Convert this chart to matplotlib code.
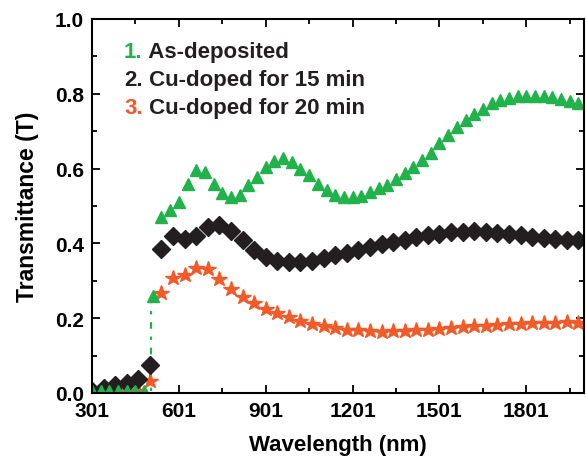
import numpy as np
import matplotlib.pyplot as plt
from matplotlib.ticker import MultipleLocator, FixedLocator

plt.rcParams['font.family'] = ['Liberation Sans', 'DejaVu Sans']
plt.rcParams['font.weight'] = 'bold'

# wavelengths (nm)
wl_dep = np.arange(301, 2001, 30)
wl_cu = np.arange(301, 2001, 40)
edge_wl = 505  # absorption edge of the as-deposited film

t_dep = [0.005, 0.005, 0.005, 0.005, 0.005, 0.005, 0.005,
         0.26, 0.47, 0.49, 0.51, 0.56, 0.595, 0.59, 0.56, 0.535, 0.525,
         0.528, 0.555, 0.578, 0.603, 0.621, 0.627, 0.618, 0.60, 0.583, 0.56,
         0.542, 0.530, 0.525, 0.523, 0.526, 0.537, 0.548, 0.556, 0.571, 0.588,
         0.605, 0.623, 0.641, 0.667, 0.689, 0.711, 0.730, 0.747, 0.760, 0.774,
         0.783, 0.789, 0.793, 0.795, 0.795, 0.793, 0.791, 0.787, 0.781, 0.776]

t_15 = [0.005, 0.012, 0.02, 0.027, 0.037, 0.075, 0.385, 0.42, 0.412, 0.42,
        0.444, 0.448, 0.432, 0.408, 0.382, 0.364, 0.353, 0.349, 0.349, 0.353,
        0.36, 0.368, 0.375, 0.381, 0.389, 0.397, 0.404, 0.41, 0.416, 0.422,
        0.426, 0.429, 0.431, 0.432, 0.43, 0.427, 0.424, 0.421, 0.418, 0.415,
        0.412, 0.41, 0.408]

t_20 = [0.002, 0.002, 0.003, 0.004, 0.006, 0.032, 0.268, 0.307, 0.315, 0.334,
        0.332, 0.305, 0.278, 0.257, 0.24, 0.225, 0.213, 0.203, 0.193, 0.184,
        0.179, 0.173, 0.169, 0.167, 0.165, 0.164, 0.165, 0.166, 0.168, 0.169,
        0.171, 0.173, 0.175, 0.178, 0.18, 0.182, 0.184, 0.185, 0.186, 0.187,
        0.188, 0.189, 0.186]

green = '#22b24c'
black = '#231f20'
orange = '#f15a29'

fig = plt.figure(figsize=(5.86, 4.64), dpi=100)
ax = fig.add_axes([0.157, 0.151, 0.84, 0.806])

# dotted step at the absorption edge
ax.vlines(edge_wl, t_dep[6], t_dep[7], colors=green, lw=1.6,
          linestyles=(0, (1.5, 3.5, 3, 3.5)))

ax.plot(wl_cu, t_20, ls='none', marker='*', ms=11.5, color=orange, mec=orange)
ax.plot(wl_cu, t_15, ls='none', marker='D', ms=9, color=black, mec=black)
ax.plot(wl_dep, t_dep, ls='none', marker='^', ms=9, color=green, mec=green)

ax.set_xlim(301, 2001)
ax.set_ylim(0, 1.0)
ax.xaxis.set_major_locator(FixedLocator([301, 601, 901, 1201, 1501, 1801]))
ax.xaxis.set_minor_locator(FixedLocator([451, 751, 1051, 1351, 1651, 1951]))
ax.yaxis.set_major_locator(MultipleLocator(0.2))
ax.yaxis.set_minor_locator(MultipleLocator(0.1))
ax.yaxis.set_major_formatter(plt.FormatStrFormatter('%.1f'))

ax.tick_params(which='both', direction='in', top=True, right=True, width=1.3)
ax.tick_params(which='major', length=6, labelsize=15, pad=6)
ax.tick_params(which='minor', length=3.5)
for s in ax.spines.values():
    s.set_linewidth(1.5)

ax.set_xlabel('Wavelength (nm)', fontsize=16, fontweight='bold', labelpad=10)
ax.set_ylabel('Transmittance (T)', fontsize=16.5, fontweight='bold', labelpad=11)

labels = [('1.', green, 'As-deposited'),
          ('2.', black, 'Cu-doped for 15 min'),
          ('3.', orange, 'Cu-doped for 20 min')]
for i, (num, col, txt) in enumerate(labels):
    y = 0.913 - i * 0.075
    t = ax.text(0.065, y, num, transform=ax.transAxes, color=col,
                fontsize=16, fontweight='bold', va='center')
    ax.annotate(' ' + txt, xycoords=t, xy=(1, 0.5), va='center',
                color=black, fontsize=16, fontweight='bold')

fig.savefig('out.png', dpi=100)
